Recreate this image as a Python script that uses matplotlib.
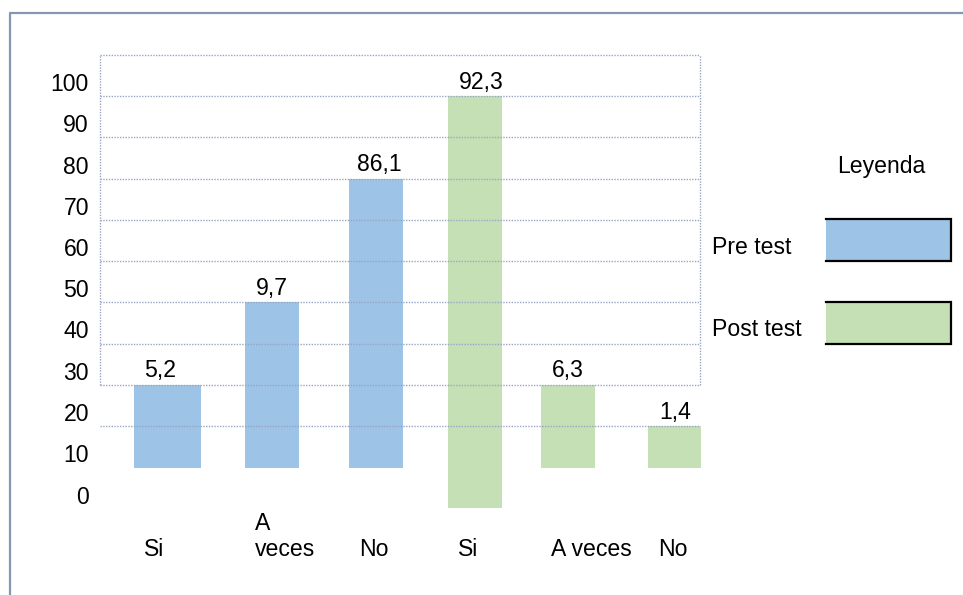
import matplotlib
matplotlib.use("Agg")
import matplotlib.pyplot as plt
from matplotlib.patches import Rectangle
from matplotlib.lines import Line2D

plt.rcParams['font.family'] = ['Liberation Sans', 'DejaVu Sans']
plt.rcParams['font.size'] = 16.6

# categories and printed values
CATEGORIES = ["Si", "A\nveces", "No", "Si", "A veces", "No"]
PRE_VALUES = [5.2, 9.7, 86.1]
POST_VALUES = [92.3, 6.3, 1.4]

# bar extents as drawn in the picture (axis units)
PRE_BOTTOM = [6.5, 6.5, 6.5]
PRE_TOP = [26.6, 46.6, 76.6]
POST_BOTTOM = [-3.3, 6.5, 6.5]
POST_TOP = [96.6, 26.6, 16.6]

Y_TICKS = list(range(0, 101, 10))
SERIES = ["Pre test", "Post test"]

BLUE = "#9dc3e6"
GREEN = "#c5e0b4"
GRID = "#97a6c4"
FRAME = "#8497b0"


def py(p):
    # pixel row -> axis units
    return (494.5 - p) / 4.125


def graph_generator():
    fig = plt.figure(figsize=(9.63, 5.95), dpi=100)
    ax = fig.add_axes([0, 0, 1, 1])
    ax.set_xlim(0, 963)
    ax.set_ylim(py(595), py(0))
    for s in ax.spines.values():
        s.set_visible(False)
    ax.set_xticks([])
    ax.set_yticks(Y_TICKS)
    ax.set_yticklabels([str(t) for t in Y_TICKS])
    ax.tick_params(axis='y', length=0, pad=-89 * 72 / 100)

    # bars
    pre_left = [134, 245, 349]
    pre_width = [67, 54, 54]
    post_left = [448, 541, 648]
    post_width = [54, 54, 53]
    ax.bar(pre_left, [t - b for t, b in zip(PRE_TOP, PRE_BOTTOM)], bottom=PRE_BOTTOM,
           width=pre_width, align='edge', color=BLUE, zorder=2)
    ax.bar(post_left, [t - b for t, b in zip(POST_TOP, POST_BOTTOM)], bottom=POST_BOTTOM,
           width=post_width, align='edge', color=GREEN, zorder=2)

    # value labels
    label_x = [160, 272, 379, 481, 568, 675]
    tops = PRE_TOP + POST_TOP
    vals = PRE_VALUES + POST_VALUES
    for x, t, v in zip(label_x, tops, vals):
        ax.text(x, t + 3.4, f"{v:.1f}".replace(".", ","), ha='center', va='center')

    # dotted grid box
    levels = [t + 6.6 for t in Y_TICKS[1:]]
    ax.hlines(levels, 100, 700, colors=GRID, linestyles=(0, (1, 1)), lw=1, zorder=3)
    ax.vlines([100, 700], levels[1], levels[-1], colors=GRID, linestyles=(0, (1, 1)),
              lw=1, zorder=3)

    # category labels
    cat_x = [144, 255, 359, 457.6, 551, 658.5]
    for x, c in zip(cat_x, CATEGORIES):
        y = py(536.4) if "\n" in c else py(550)
        ax.text(x, y, c, ha='left', va='center', linespacing=1.15)

    # legend drawn by hand
    ax.text(881, py(166), "Leyenda", ha='center', va='center')
    for name, col, (b, t), ty in zip(SERIES, [BLUE, GREEN], [(56.6, 66.7), (36.6, 46.6)],
                                     [py(248), py(330)]):
        ax.text(712, ty, name, ha='left', va='center')
        ax.add_patch(Rectangle((826, b), 125, t - b, facecolor=col, edgecolor='none', zorder=2))
        ax.plot([826, 951, 951, 826], [t, t, b, b], color='black', lw=1.6, zorder=3,
                solid_joinstyle='miter')

    # outer frame (top and left only visible)
    fig.add_artist(Line2D([10 / 963, 10 / 963, 1], [0, 1 - 13 / 595, 1 - 13 / 595],
                          color=FRAME, lw=1.6, transform=fig.transFigure))

    fig.savefig("out.png", dpi=100)


def main():
    graph_generator()


if __name__ == "__main__":
    main()
